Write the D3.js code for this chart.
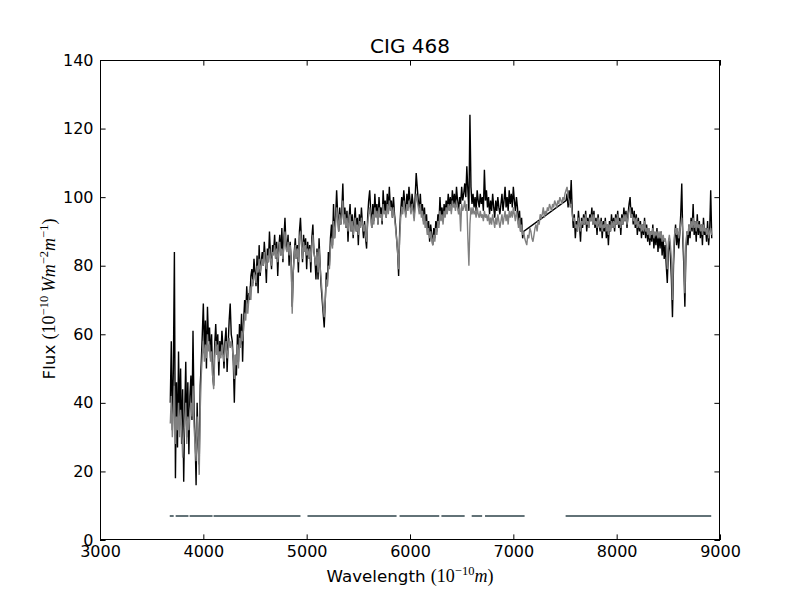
<!DOCTYPE html>
<html><head><meta charset="utf-8">
<script src="https://cdn.jsdelivr.net/npm/d3@7"></script>
<style>body{margin:0;background:#fff}svg{display:block}</style>
</head><body>
<svg id="chart" width="800" height="600"></svg>
<script>
// ---- data ----
const chartTitle = "CIG 468";
const wavelengthStart = 3680;   // first sample, Angstrom
const wavelengthStep = 10;      // sampling step, Angstrom
// observed spectrum (black); null = masked (telluric) region
const observedFlux = [
  40, 58, 32, 50, 84, 18, 46, 27, 55, 35,
  50, 28, 44, 17, 38, 52, 30, 46, 25, 42,
  48, 35, 61, 38, 30, 16, 40, 28, 22, 45,
  52, 60, 69, 55, 64, 50, 68, 58, 62, 53,
  60, 48, 45, 57, 63, 55, 60, 48, 58, 54,
  61, 56, 50, 58, 62, 49, 57, 64, 69, 60,
  58, 52, 40, 54, 48, 60, 52, 63, 57, 66,
  52, 64, 70, 66, 74, 68, 72, 70, 77, 79,
  75, 82, 78, 74, 83, 72, 86, 77, 81, 84,
  80, 87, 82, 75, 85, 81, 90, 83, 79, 86,
  84, 89, 82, 87, 77, 85, 89, 83, 91, 81,
  88, 94, 86, 85, 89, 80, 87, 82, 68, 78,
  84, 88, 82, 86, 78, 90, 94, 87, 81, 89,
  85, 88, 79, 87, 82, 86, 78, 88, 92, 84,
  82, 76, 85, 76, 88, 80, 74, 70, 66, 62,
  70, 78, 74, 84, 80, 88, 92, 86, 98, 88,
  94, 102, 95, 90, 97, 92, 96, 104, 93, 97,
  91, 96, 87, 94, 98, 90, 95, 88, 93, 97,
  90, 94, 86, 95, 91, 97, 92, 88, 93, 88,
  85, 94, 99, 102, 96, 91, 98, 93, 101, 95,
  98, 92, 100, 95, 97, 92, 102, 96, 99, 94,
  101, 96, 103, 97, 99, 94, 100, 95, 92, 88,
  84, 77, 90, 96, 100, 97, 102, 98, 95, 101,
  97, 103, 99, 96, 101, 98, 94, 100, 107, 103,
  99, 96, 101, 95, 98, 93, 97, 91, 95, 89,
  93, 87, 92, 89, 86, 91, 88, 93, 90, 95,
  92, 100, 94, 97, 93, 98, 95, 99, 96, 101,
  97, 100, 96, 102, 98, 101, 97, 103, 99, 96,
  100, 98, 103, 99, 101, 104, 100, 109, 102, 96,
  124, 103, 98, 101, 97, 100, 96, 102, 99, 97,
  101, 98, 100, 96, 108, 99, 102, 97, 100, 95,
  99, 96, 101, 97, 94, 99, 96, 100, 97, 95,
  98, 101, 96, 99, 103, 97, 100, 96, 102, 98,
  101, 97, 103, 99, 96, 100, 97, 92, 96, 90,
  94, 88, 90, null, null, null, null, null, null, null,
  null, null, null, null, null, null, null, null, null, null,
  null, null, null, null, null, null, null, null, null, null,
  null, null, null, null, null, null, null, null, null, null,
  null, null, null, 99, 101, 97, 102, 98, 105, 96,
  91, 95, 88, 93, 90, 96, 92, 87, 94, 91,
  95, 92, 96, 90, 94, 91, 95, 93, 97, 92,
  96, 91, 94, 89, 95, 92, 90, 94, 88, 93,
  90, 94, 88, 92, 86, 93, 90, 95, 91, 94,
  90, 95, 92, 96, 91, 94, 89, 95, 92, 97,
  93, 96, 91, 95, 98, 100, 94, 97, 92, 96,
  91, 95, 89, 94, 90, 93, 88, 92, 89, 94,
  88, 92, 87, 91, 86, 90, 87, 92, 85, 89,
  86, 91, 84, 89, 85, 90, 83, 88, 82, 86,
  80, 75, 84, 88, 83, 76, 65, 80, 88, 92,
  86, 90, 85, 89, 95, 104, 88, 80, 68, 84,
  90, 86, 92, 88, 94, 90, 98, 89, 93, 87,
  95, 89, 93, 88, 92, 86, 94, 89, 91, 87,
  93, 86, 90, 102, 88
];
// model spectrum (grey)
const modelFlux = [
  34, 42, 30, 38, 45, 28, 36, 32, 40, 30,
  38, 33, 24, 30, 35, 40, 28, 36, 32, 38,
  40, 36, 45, 33, 28, 23, 36, 30, 19, 38,
  48, 54, 58, 52, 57, 53, 60, 55, 57, 52,
  55, 48, 44, 53, 58, 54, 57, 52, 55, 53,
  57, 54, 52, 56, 58, 53, 55, 59, 56, 58,
  56, 53, 47, 54, 51, 57, 50, 59, 56, 61,
  58, 62, 66, 64, 70, 66, 70, 74, 70, 76,
  74, 78, 77, 75, 80, 78, 82, 78, 80, 82,
  80, 84, 81, 79, 83, 81, 85, 82, 80, 84,
  83, 86, 82, 85, 81, 84, 87, 83, 85, 82,
  86, 90, 85, 84, 87, 83, 86, 81, 66, 78,
  83, 86, 82, 85, 81, 88, 90, 86, 82, 87,
  84, 86, 83, 85, 82, 85, 81, 86, 89, 84,
  82, 80, 84, 78, 85, 80, 76, 72, 68, 65,
  70, 76, 74, 80, 79, 85, 88, 85, 93, 88,
  92, 97, 94, 90, 95, 92, 94, 99, 92, 95,
  91, 94, 90, 93, 95, 90, 93, 89, 92, 94,
  90, 92, 89, 93, 91, 94, 92, 90, 92, 89,
  87, 92, 95, 97, 94, 91, 95, 92, 97, 94,
  96, 92, 97, 94, 95, 93, 98, 95, 96, 94,
  98, 95, 99, 96, 97, 94, 97, 94, 91, 88,
  84, 79, 88, 94, 97, 95, 99, 96, 94, 98,
  96, 99, 97, 95, 98, 96, 93, 97, 101, 99,
  97, 95, 98, 94, 96, 92, 95, 91, 93, 89,
  91, 88, 90, 88, 86, 89, 87, 91, 89, 93,
  91, 96, 93, 95, 92, 96, 94, 97, 95, 98,
  96, 98, 95, 99, 97, 98, 96, 99, 97, 95,
  97, 90, 98, 96, 97, 99, 96, 98, 88, 80,
  92, 97, 95, 97, 95, 96, 94, 97, 95, 94,
  96, 94, 95, 93, 96, 94, 95, 93, 95, 92,
  94, 92, 95, 93, 91, 94, 92, 95, 93, 91,
  93, 95, 92, 94, 96, 93, 95, 92, 96, 94,
  96, 94, 97, 95, 93, 96, 94, 91, 94, 90,
  92, 89, 90, 88, 87, 86, 89, 88, 91, 90,
  88, 87, 89, 91, 92, 90, 93, 92, 95, 94,
  95, 97, 94, 96, 95, 97, 96, 98, 97, 96,
  98, 97, 99, 98, 97, 99, 98, 100, 99, 98,
  100, 99, 101, 102, 103, 100, 99, 97, 98, 95,
  93, 94, 91, 92, 90, 94, 92, 90, 93, 92,
  94, 92, 95, 92, 93, 91, 94, 93, 95, 92,
  95, 92, 93, 91, 94, 92, 91, 93, 90, 92,
  91, 93, 90, 92, 89, 92, 90, 93, 91, 93,
  91, 94, 92, 95, 92, 93, 91, 94, 92, 95,
  93, 95, 92, 94, 96, 97, 94, 95, 93, 94,
  92, 94, 91, 93, 91, 92, 90, 92, 90, 93,
  90, 91, 89, 91, 88, 90, 89, 91, 88, 90,
  89, 90, 88, 90, 88, 90, 87, 89, 87, 88,
  86, 79, 87, 89, 86, 82, 70, 84, 89, 91,
  89, 91, 88, 90, 92, 94, 90, 84, 72, 86,
  90, 89, 92, 90, 93, 91, 94, 91, 93, 90,
  93, 91, 92, 90, 92, 89, 92, 90, 91, 89,
  91, 88, 90, 91, 89
];
// fitted-region mask segments
const maskStart = [3675, 3732, 3867, 4099, 5008, 5899, 6304, 6597, 6726, 7506];
const maskEnd   = [3713, 3856, 4089, 4940, 5870, 6283, 6529, 6698, 7109, 8915];
const maskLevel = 7;
const xTicks = [3000, 4000, 5000, 6000, 7000, 8000, 9000];
const yTicks = [0, 20, 40, 60, 80, 100, 120, 140];
const xDomain = [3000, 9000];
const yDomain = [0, 140];

// ---- drawing ----
const svg = d3.select("#chart");
const M = {left: 100, right: 720, top: 60, bottom: 540};
const x = d3.scaleLinear().domain(xDomain).range([M.left, M.right]);
const y = d3.scaleLinear().domain(yDomain).range([M.bottom, M.top]);
const sans = "'DejaVu Sans', sans-serif";
const serif = "'Liberation Serif', 'DejaVu Serif', serif";

svg.append("rect").attr("width", 800).attr("height", 600).attr("fill", "#fff");

const obs = observedFlux.map((v, i) => ({w: wavelengthStart + i * wavelengthStep, f: v}))
  .filter(d => d.f !== null);
const mod = modelFlux.map((v, i) => ({w: wavelengthStart + i * wavelengthStep, f: v}));

const line = d3.line().x(d => x(d.w)).y(d => y(d.f));

const plot = svg.append("g");
plot.append("path").datum(obs).attr("d", line)
  .attr("fill", "none").attr("stroke", "#000").attr("stroke-width", 1.4).attr("stroke-linejoin", "miter");
plot.append("path").datum(mod).attr("d", line)
  .attr("fill", "none").attr("stroke", "#808080").attr("stroke-width", 1.4).attr("stroke-linejoin", "miter");

plot.selectAll("line.mask").data(maskStart.map((s, i) => [s, maskEnd[i]])).join("line")
  .attr("class", "mask")
  .attr("x1", d => x(d[0])).attr("x2", d => x(d[1]))
  .attr("y1", y(maskLevel)).attr("y2", y(maskLevel))
  .attr("stroke", "#627277").attr("stroke-width", 2);

// axes
const tl = 5.6;
function styleAxis(g) {
  g.select(".domain").remove();
  g.selectAll(".tick line").attr("stroke", "#000").attr("stroke-width", 1);
  g.selectAll(".tick text").attr("font-family", sans).attr("font-size", 16).attr("fill", "#000");
}
svg.append("g").attr("transform", `translate(0,${M.bottom})`)
  .call(d3.axisBottom(x).tickValues(xTicks).tickFormat(d3.format("d")).tickSize(-tl).tickPadding(6))
  .call(styleAxis);
svg.append("g").attr("transform", `translate(0,${M.top})`)
  .call(d3.axisTop(x).tickValues(xTicks).tickFormat("").tickSize(-tl))
  .call(styleAxis);
svg.append("g").attr("transform", `translate(${M.left},0)`)
  .call(d3.axisLeft(y).tickValues(yTicks).tickFormat(d3.format("d")).tickSize(-tl).tickPadding(6.5))
  .call(styleAxis);
svg.append("g").attr("transform", `translate(${M.right},0)`)
  .call(d3.axisRight(y).tickValues(yTicks).tickFormat("").tickSize(-tl))
  .call(styleAxis);

svg.append("rect").attr("x", M.left + 0.5).attr("y", M.top + 0.5)
  .attr("width", M.right - M.left - 1).attr("height", M.bottom - M.top - 1)
  .attr("fill", "none").attr("stroke", "#000").attr("stroke-width", 1);

// title
svg.append("text").attr("x", 410).attr("y", 52.5).attr("text-anchor", "middle")
  .attr("font-family", sans).attr("font-size", 20).text(chartTitle);

// x label
const xl = svg.append("text").attr("x", 410).attr("y", 582).attr("text-anchor", "middle")
  .attr("font-family", sans).attr("font-size", 16.7);
xl.append("tspan").text("Wavelength ");
xl.append("tspan").attr("font-family", serif).attr("font-size", 18).text("(10");
xl.append("tspan").attr("font-family", serif).attr("font-size", 12.5).attr("dy", -7.5).text("\u221210");
xl.append("tspan").attr("font-family", serif).attr("font-size", 18).attr("font-style", "italic").attr("dy", 7.5).text("m");
xl.append("tspan").attr("font-family", serif).attr("font-size", 18).text(")");

// y label
const yl = svg.append("text").attr("transform", "translate(55,299) rotate(-90)").attr("text-anchor", "middle")
  .attr("font-family", sans).attr("font-size", 16.7);
yl.append("tspan").text("Flux ");
yl.append("tspan").attr("font-family", serif).attr("font-size", 18).text("(10");
yl.append("tspan").attr("font-family", serif).attr("font-size", 12.5).attr("dy", -7.5).text("\u221210");
yl.append("tspan").attr("font-family", serif).attr("font-size", 18).attr("font-style", "italic").attr("dy", 7.5).text("\u2009Wm");
yl.append("tspan").attr("font-family", serif).attr("font-size", 12.5).attr("dy", -7.5).text("\u22122");
yl.append("tspan").attr("font-family", serif).attr("font-size", 18).attr("font-style", "italic").attr("dy", 7.5).text("m");
yl.append("tspan").attr("font-family", serif).attr("font-size", 12.5).attr("dy", -7.5).text("\u22121");
yl.append("tspan").attr("font-family", serif).attr("font-size", 18).attr("dy", 7.5).text(")");
</script>
</body></html>
